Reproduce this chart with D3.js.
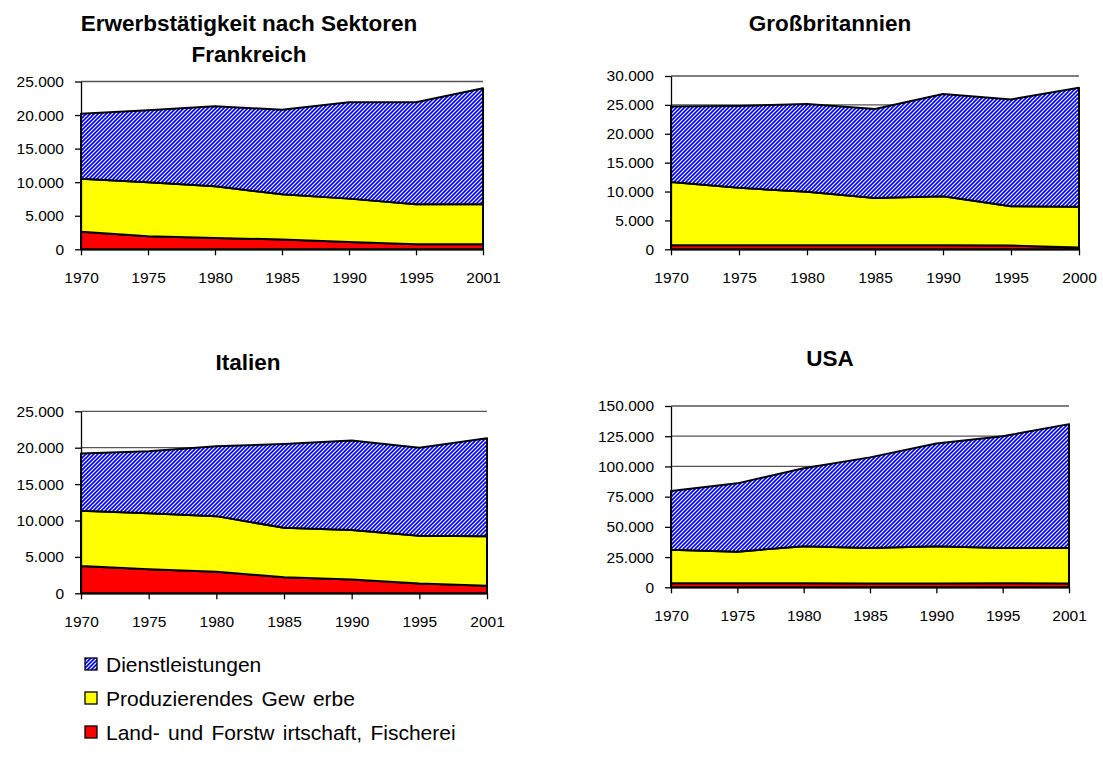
<!DOCTYPE html>
<html>
<head>
<meta charset="utf-8">
<script src="https://cdn.jsdelivr.net/npm/d3@7"></script>
<style>
  body { margin: 0; background: #fff; }
  svg { display: block; }
  text { font-family: "Liberation Sans", Arial, sans-serif; fill: #000; }
</style>
</head>
<body>
<svg id="chart" width="1103" height="757"></svg>
<script>
// Erwerbstätige nach Sektoren (in Tausend)
const yearsA = ["1970", "1975", "1980", "1985", "1990", "1995", "2001"];
const yearsGB = ["1970", "1975", "1980", "1985", "1990", "1995", "2000"];

const frAgri = [2600, 1950, 1700, 1450, 1100, 750, 750];
const frInd  = [7900, 8050, 7700, 6750, 6450, 5950, 5950];
const frServ = [9700, 10700, 11900, 12600, 14350, 15200, 17300];

const gbAgri = [700, 700, 700, 700, 700, 650, 300];
const gbInd  = [10950, 9950, 9250, 8200, 8500, 6800, 7050];
const gbServ = [13050, 14150, 15200, 15400, 17700, 18500, 20600];

const itAgri = [3750, 3300, 2950, 2200, 1900, 1350, 1050];
const itInd  = [7600, 7700, 7650, 6800, 6800, 6550, 6800];
const itServ = [7850, 8500, 9600, 11500, 12300, 12100, 13450];

const usAgri = [3400, 3300, 3300, 3200, 3200, 3300, 3100];
const usInd  = [27600, 26200, 30700, 29300, 30800, 29200, 29400];
const usServ = [48700, 56500, 64500, 75000, 85000, 92500, 102500];

const frTicks = [0, 5000, 10000, 15000, 20000, 25000];
const gbTicks = [0, 5000, 10000, 15000, 20000, 25000, 30000];
const itTicks = [0, 5000, 10000, 15000, 20000, 25000];
const usTicks = [0, 25000, 50000, 75000, 100000, 125000, 150000];

const seriesKeys = ["agri", "ind", "serv"];
const legendLabels = ["Dienstleistungen", "Produzierendes Gew erbe", "Land- und Forstw irtschaft, Fischerei"];

const svg = d3.select("#chart");

// diagonal blue hatch for the services layer
const defs = svg.append("defs");
const pat = defs.append("pattern")
  .attr("id", "hatch")
  .attr("patternUnits", "userSpaceOnUse")
  .attr("width", 4).attr("height", 4);
pat.append("rect").attr("width", 4).attr("height", 4).attr("fill", "#fff");
pat.append("path")
  .attr("d", "M-1,1 L1,-1 M0,4 L4,0 M3,5 L5,3")
  .attr("stroke", "#0000ff").attr("stroke-width", 1.7);

const fills = { agri: "#ff0000", ind: "#ffff00", serv: "url(#hatch)" };

const de = d3.formatLocale({ decimal: ",", thousands: ".", grouping: [3], currency: ["", " €"] });
const fmt = de.format(",d");

const panels = [
  { years: yearsA,  agri: frAgri, ind: frInd, serv: frServ, ticks: frTicks,
    x0: 81, x1: 483, yTop: 81.5, yBot: 249.3,
    title: ["Erwerbstätigkeit nach Sektoren", "Frankreich"], tx: 249, ty: [31, 62] },
  { years: yearsGB, agri: gbAgri, ind: gbInd, serv: gbServ, ticks: gbTicks,
    x0: 671, x1: 1079, yTop: 76, yBot: 249.3,
    title: ["Großbritannien"], tx: 830, ty: [31] },
  { years: yearsA,  agri: itAgri, ind: itInd, serv: itServ, ticks: itTicks,
    x0: 81, x1: 487, yTop: 411.3, yBot: 593.3,
    title: ["Italien"], tx: 248, ty: [370] },
  { years: yearsA,  agri: usAgri, ind: usInd, serv: usServ, ticks: usTicks,
    x0: 671, x1: 1069, yTop: 406, yBot: 587.3,
    title: ["USA"], tx: 830, ty: [366] }
];

panels.forEach(p => {
  const g = svg.append("g");
  const x = d3.scalePoint().domain(p.years).range([p.x0, p.x1]);
  const y = d3.scaleLinear().domain([0, d3.max(p.ticks)]).range([p.yBot, p.yTop]);

  // major gridlines behind the areas
  g.append("g").selectAll("line")
    .data(p.ticks.slice(1))
    .join("line")
    .attr("x1", p.x0).attr("x2", p.x1)
    .attr("y1", d => y(d)).attr("y2", d => y(d))
    .attr("stroke", "#555").attr("stroke-width", 1.3);

  const rows = p.years.map((yr, i) => ({ year: yr, agri: p.agri[i], ind: p.ind[i], serv: p.serv[i] }));
  const layers = d3.stack().keys(seriesKeys)(rows);
  const area = d3.area()
    .x(d => x(d.data.year))
    .y0(d => y(d[0]))
    .y1(d => y(d[1]));

  g.append("g").selectAll("path")
    .data(layers)
    .join("path")
    .attr("d", area)
    .attr("fill", d => fills[d.key])
    .attr("stroke", "#000")
    .attr("stroke-width", 2)
    .attr("stroke-linejoin", "round");

  // value axis
  const ya = g.append("g")
    .attr("transform", `translate(${p.x0},0)`)
    .call(d3.axisLeft(y).tickValues(p.ticks).tickFormat(fmt).tickSize(6).tickSizeOuter(0).tickPadding(11));
  // category axis
  const xa = g.append("g")
    .attr("transform", `translate(0,${p.yBot})`)
    .call(d3.axisBottom(x).tickSize(6).tickSizeOuter(0).tickPadding(17));

  [ya, xa].forEach(a => {
    a.attr("font-size", 15.5).attr("font-family", '"Liberation Sans", Arial, sans-serif');
    a.select(".domain").attr("stroke", "#000").attr("stroke-width", 1.3);
    a.selectAll(".tick line").attr("stroke", "#000").attr("stroke-width", 1.3);
    a.selectAll(".tick text").attr("fill", "#000");
  });

  p.title.forEach((t, i) => {
    svg.append("text")
      .attr("x", p.tx).attr("y", p.ty[i])
      .attr("text-anchor", "middle")
      .attr("font-size", 22.5).attr("font-weight", "bold")
      .text(t);
  });
});

// legend
const legendFills = [fills.serv, fills.ind, fills.agri];
const lg = svg.append("g");
const legendRows = lg.selectAll("g")
  .data(legendLabels)
  .join("g")
  .attr("transform", (d, i) => `translate(85,${664 + i * 34})`);
legendRows.append("rect")
  .attr("x", 0).attr("y", -6).attr("width", 12).attr("height", 12)
  .attr("fill", (d, i) => legendFills[i])
  .attr("stroke", "#000").attr("stroke-width", 1.3);
legendRows.append("text")
  .attr("x", 21).attr("y", 7.5)
  .attr("font-size", 21)
  .attr("word-spacing", 2.5)
  .text(d => d);
</script>
</body>
</html>
